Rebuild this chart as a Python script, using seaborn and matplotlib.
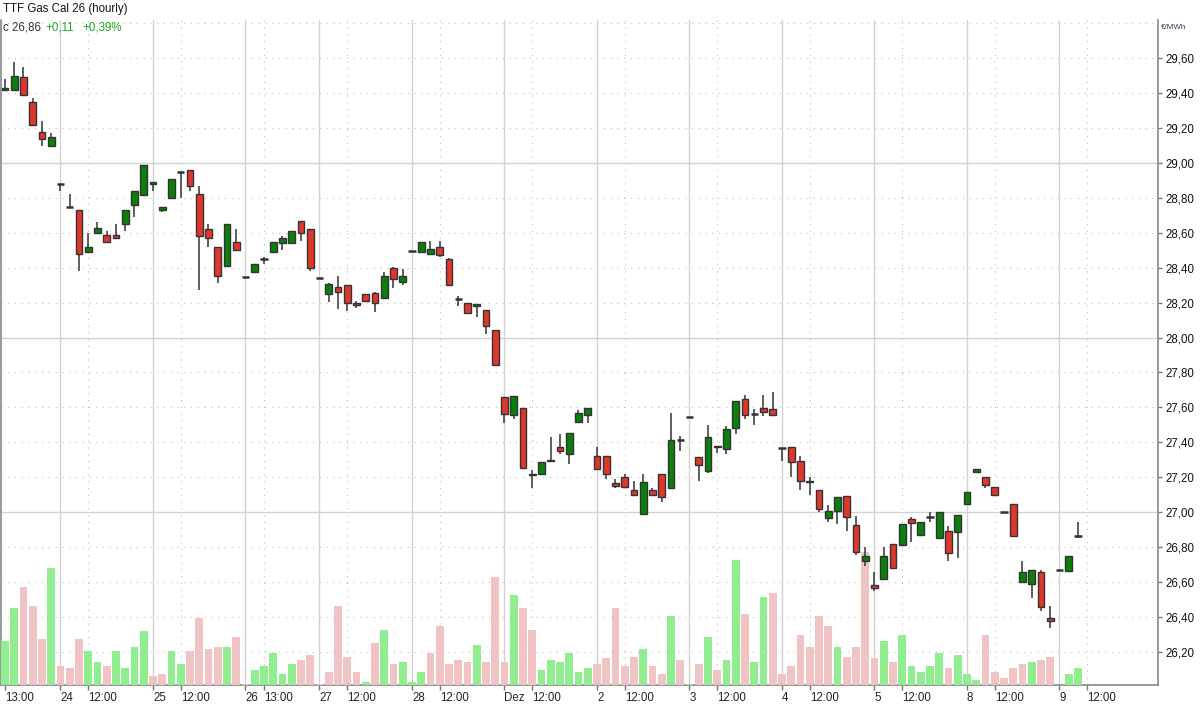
import numpy as np
import pandas as pd
import seaborn as sns
import matplotlib.pyplot as plt

# hourly OHLC, TTF Gas Cal 26 (21.11. 13:00 .. 09.12. 11:00)
opens = [29.42, 29.42, 29.49, 29.35, 29.18, 29.10,
         28.88, 28.75, 28.73, 28.49, 28.60, 28.59, 28.59, 28.65, 28.76, 28.815,
         28.88, 28.73, 28.80, 28.95, 28.96, 28.82, 28.62, 28.52, 28.41, 28.55,
         28.345, 28.375, 28.45, 28.49, 28.54, 28.54, 28.67, 28.62,
         28.34, 28.25, 28.29, 28.30, 28.195, 28.25, 28.255, 28.225, 28.40, 28.32,
         28.495, 28.49, 28.48, 28.52, 28.45, 28.22, 28.195, 28.18, 28.16, 28.045,
         27.66, 27.555, 27.595, 27.22, 27.22, 27.29, 27.375, 27.335, 27.515, 27.555,
         27.32, 27.32, 27.165, 27.20, 27.125, 26.99, 27.125, 27.215, 27.14, 27.415,
         27.545, 27.315, 27.235, 27.37, 27.36, 27.48, 27.645, 27.565, 27.595, 27.59,
         27.365, 27.375, 27.295, 27.18, 27.125, 26.965, 27.005, 27.09, 26.925, 26.72,
         26.58, 26.615, 26.815, 26.81, 26.96, 26.87, 26.965, 26.85, 26.89, 26.885,
         27.045, 27.23, 27.20, 27.145, 27.00, 27.045, 26.60, 26.59, 26.655, 26.395,
         26.67, 26.66, 26.855]
highs = [29.48, 29.58, 29.55, 29.37, 29.24, 29.17,
         28.88, 28.82, 28.73, 28.60, 28.66, 28.61, 28.65, 28.73, 28.84, 28.99,
         28.89, 28.75, 28.91, 28.95, 28.96, 28.87, 28.65, 28.52, 28.65, 28.62,
         28.345, 28.42, 28.46, 28.545, 28.58, 28.61, 28.67, 28.62,
         28.34, 28.315, 28.35, 28.30, 28.21, 28.25, 28.26, 28.375, 28.405, 28.39,
         28.495, 28.545, 28.555, 28.555, 28.455, 28.235, 28.195, 28.19, 28.16, 28.045,
         27.66, 27.665, 27.595, 27.24, 27.285, 27.43, 27.445, 27.455, 27.585, 27.595,
         27.375, 27.32, 27.19, 27.22, 27.175, 27.215, 27.135, 27.215, 27.565, 27.435,
         27.545, 27.315, 27.50, 27.38, 27.49, 27.635, 27.67, 27.59, 27.67, 27.69,
         27.365, 27.375, 27.32, 27.20, 27.125, 27.04, 27.085, 27.09, 26.975, 26.80,
         26.655, 26.80, 26.815, 26.93, 26.97, 26.94, 27.00, 27.00, 26.92, 26.98,
         27.115, 27.245, 27.20, 27.145, 27.00, 27.045, 26.72, 26.67, 26.67, 26.46,
         26.67, 26.745, 26.945]
lows = [29.42, 29.42, 29.39, 29.22, 29.10, 29.09,
        28.84, 28.75, 28.38, 28.49, 28.60, 28.55, 28.57, 28.61, 28.69, 28.815,
        28.84, 28.72, 28.80, 28.80, 28.84, 28.27, 28.52, 28.31, 28.41, 28.50,
        28.345, 28.375, 28.42, 28.49, 28.50, 28.54, 28.555, 28.38,
        28.34, 28.205, 28.165, 28.15, 28.17, 28.21, 28.145, 28.225, 28.285, 28.30,
        28.495, 28.485, 28.48, 28.46, 28.30, 28.18, 28.14, 28.12, 28.02, 27.84,
        27.51, 27.535, 27.25, 27.135, 27.22, 27.29, 27.335, 27.275, 27.515, 27.51,
        27.245, 27.19, 27.14, 27.135, 27.10, 26.99, 27.095, 27.055, 27.14, 27.35,
        27.545, 27.175, 27.225, 27.34, 27.335, 27.445, 27.535, 27.50, 27.55, 27.55,
        27.295, 27.20, 27.125, 27.095, 27.00, 26.94, 26.93, 26.89, 26.755, 26.69,
        26.545, 26.615, 26.68, 26.81, 26.83, 26.87, 26.945, 26.85, 26.72, 26.735,
        27.045, 27.23, 27.135, 27.095, 27.00, 26.86, 26.60, 26.51, 26.43, 26.335,
        26.67, 26.66, 26.85]
closes = [29.43, 29.50, 29.39, 29.22, 29.14, 29.15,
          28.88, 28.75, 28.48, 28.52, 28.63, 28.55, 28.57, 28.73, 28.84, 28.99,
          28.89, 28.75, 28.91, 28.95, 28.87, 28.58, 28.57, 28.35, 28.65, 28.50,
          28.345, 28.42, 28.45, 28.545, 28.57, 28.61, 28.60, 28.40,
          28.34, 28.305, 28.26, 28.20, 28.185, 28.21, 28.195, 28.35, 28.335, 28.35,
          28.495, 28.545, 28.51, 28.47, 28.30, 28.22, 28.14, 28.19, 28.065, 27.84,
          27.56, 27.665, 27.25, 27.21, 27.285, 27.30, 27.35, 27.455, 27.565, 27.595,
          27.245, 27.22, 27.15, 27.145, 27.10, 27.17, 27.095, 27.085, 27.415, 27.41,
          27.545, 27.27, 27.43, 27.38, 27.475, 27.635, 27.555, 27.56, 27.575, 27.555,
          27.365, 27.285, 27.175, 27.17, 27.015, 27.005, 27.085, 26.97, 26.77, 26.745,
          26.565, 26.745, 26.68, 26.93, 26.935, 26.94, 26.97, 27.00, 26.765, 26.98,
          27.115, 27.245, 27.155, 27.095, 27.00, 26.865, 26.655, 26.67, 26.455, 26.375,
          26.67, 26.745, 26.86]
volume = [44, 77, 98, 79, 46, 117,
          19, 17, 46, 34, 23, 19, 34, 17, 38, 54,
          9, 11, 34, 21, 34, 67, 36, 38, 38, 48,
          1, 15, 19, 32, 11, 21, 25, 30,
          1, 13, 79, 28, 13, 3, 42, 55, 21, 23,
          3, 13, 32, 59, 21, 25, 23, 40, 23, 108,
          23, 90, 77, 55, 15, 25, 23, 32, 13, 17,
          21, 27, 77, 19, 28, 36, 19, 11, 69, 25,
          1, 21, 48, 15, 25, 125, 71, 23, 88, 92,
          11, 19, 50, 38, 69, 59, 38, 28, 38, 133,
          27, 44, 23, 50, 19, 13, 19, 32, 17, 30,
          11, 5, 50, 13, 7, 17, 21, 23, 25, 28,
          0, 11, 17]

tick_pos = [0, 6, 9, 16, 19, 26, 28, 34, 37, 44, 47, 54, 57, 64, 67, 74, 77, 84, 87,
            94, 97, 104, 107, 114, 117]
tick_labels = ["13:00", "24", "12:00", "25", "12:00", "26", "13:00", "27", "12:00",
               "28", "12:00", "Dez", "12:00", "2", "12:00", "3", "12:00", "4", "12:00",
               "5", "12:00", "8", "12:00", "9", "12:00"]
day_starts = [6, 16, 26, 34, 44, 54, 64, 74, 84, 94, 104, 114]
midday = [9, 19, 28, 37, 47, 57, 67, 77, 87, 97, 107, 117]
price_ticks = [26.2, 26.4, 26.6, 26.8, 27.0, 27.2, 27.4, 27.6, 27.8, 28.0, 28.2,
               28.4, 28.6, 28.8, 29.0, 29.2, 29.4, 29.6]
price_grid = price_ticks + [29.8]

UP, DOWN = "#0b7f0b", "#e0372c"
VOL_UP, VOL_DOWN = "#90ee90", "#f0c4c4"
EDGE = "#333333"

o = np.array(opens); h = np.array(highs); l = np.array(lows); c = np.array(closes)
idx = np.arange(len(o))
prev = np.concatenate([[o[0]], c[:-1]])
vdir = np.where(c >= prev, "up", "down")

sns.set_theme(style="white")
plt.rcParams['font.family'] = ['Liberation Sans', 'DejaVu Sans']

fig = plt.figure(figsize=(12, 7.05), dpi=100)
rect = [1 / 1200, 20 / 705, 1157 / 1200, 665 / 705]
ax = fig.add_axes(rect)
ax_vol = fig.add_axes(rect)
ax_px = fig.add_axes(rect)

# grid
for p in price_grid:
    if abs(p - round(p)) < 1e-6:
        ax.axhline(p, color="#d2d2d2", lw=1.0, zorder=0)
    else:
        ax.axhline(p, color="#b8b8b8", lw=0.75, ls=(0, (1, 5.5)), zorder=0)
for d in day_starts:
    ax.axvline(d, color="#d2d2d2", lw=1.0, zorder=0)
for m in midday:
    ax.axvline(m, color="#b8b8b8", lw=0.75, ls=(0, (1, 5.5)), zorder=0)

# volume
df = pd.DataFrame({"idx": idx, "vol": volume, "dir": vdir})
sns.barplot(data=df, x="idx", y="vol", hue="dir", palette={"up": VOL_UP, "down": VOL_DOWN},
            native_scale=True, dodge=False, width=0.86, errorbar=None, saturation=1,
            linewidth=0, legend=False, ax=ax_vol)

# candles
ax_px.vlines(idx, l, h, color=EDGE, linewidth=1.1, zorder=1)
body = np.abs(c - o) >= 0.006
ax_px.bar(idx[body], np.abs(c - o)[body], bottom=np.minimum(o, c)[body], width=0.72,
          color=np.where(c >= o, UP, DOWN)[body], edgecolor=EDGE, linewidth=1.0, zorder=2)
ax_px.hlines(c[~body], idx[~body] - 0.38, idx[~body] + 0.38, color=EDGE, linewidth=1.8, zorder=2)

xlim = (-0.432, 124.65)
ylim = (26.0086, 29.8195)
for a in (ax, ax_vol, ax_px):
    a.set_xlim(*xlim)
ax.set_ylim(*ylim)
ax_px.set_ylim(*ylim)
ax_vol.set_ylim(0, 665)
for a in (ax_vol, ax_px):
    a.patch.set_visible(False)
    a.axis("off")

ax.yaxis.tick_right()
ax.set_yticks(price_ticks, [f"{v:.2f}".replace(".", ",") for v in price_ticks])
ax.set_xticks(tick_pos, tick_labels)
for lbl in ax.get_xticklabels():
    lbl.set_ha("left")
ax.tick_params(axis="y", direction="out", length=3, width=1, color="#777777",
               labelsize=8.3, labelcolor="#111111", pad=2, right=True, left=False)
ax.tick_params(axis="x", direction="out", length=3.5, width=1, color="#777777",
               labelsize=8.3, labelcolor="#222222", pad=1.5, bottom=True)
ax.spines["top"].set_visible(False)
for s in ("left", "right", "bottom"):
    ax.spines[s].set_color("#888888")
    ax.spines[s].set_linewidth(1.2)
ax.set_xlabel("")
ax.set_ylabel("")

fig.text(3 / 1200, 1 - 9 / 705, "TTF Gas Cal 26 (hourly)", fontsize=8.3, color="#111111", va="center")
fig.text(3 / 1200, 1 - 28 / 705, "c 26,86", fontsize=8.3, color="#333333", va="center")
fig.text(45 / 1200, 1 - 28 / 705, "+0,11", fontsize=8.3, color="#1fa51f", va="center")
fig.text(82 / 1200, 1 - 28 / 705, "+0,39%", fontsize=8.3, color="#1fa51f", va="center")
fig.text(1161 / 1200, 1 - 27.5 / 705, "€/MWh", fontsize=5.8, color="#2a3a5a", va="center")

fig.savefig("out.png", dpi=100)
